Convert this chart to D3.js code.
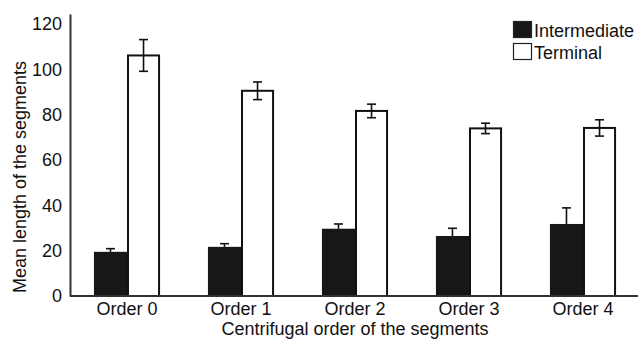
<!DOCTYPE html>
<html>
<head>
<meta charset="utf-8">
<script src="https://cdn.jsdelivr.net/npm/d3@7"></script>
<style>
  html, body { margin: 0; padding: 0; background: #fff; }
  svg { display: block; font-family: "Liberation Sans", Arial, Helvetica, sans-serif; }
</style>
</head>
<body>
<svg id="chart" width="638" height="339"></svg>
<script>
// Segment orders along the x axis
const categories = ["Order 0", "Order 1", "Order 2", "Order 3", "Order 4"];
const seriesNames = ["Intermediate", "Terminal"];

// Mean segment length and its error for each order
const intermediateMean = [19.5, 21.7, 29.7, 26.5, 31.8];
const intermediateErr  = [1.4, 1.4, 2.1, 3.4, 7.1];
const terminalMean     = [106.2, 90.6, 81.7, 74.0, 74.2];
const terminalErr      = [7.0, 3.9, 3.0, 2.3, 3.6];

const yTicks = [0, 20, 40, 60, 80, 100, 120];

const rows = categories.map((c, i) => ({
  category: c,
  values: [
    { series: seriesNames[0], mean: intermediateMean[i], err: intermediateErr[i] },
    { series: seriesNames[1], mean: terminalMean[i], err: terminalErr[i] }
  ]
}));

const svg = d3.select("#chart");
const plotLeft = 70, plotRight = 640, plotTop = 14, plotBottom = 296;

const x0 = d3.scaleBand().domain(categories).range([plotLeft, plotRight])
  .paddingInner(0.42).paddingOuter(0.21);
const x1 = d3.scaleBand().domain(seriesNames).range([0, x0.bandwidth()]).padding(0);
const y = d3.scaleLinear().domain([0, 124.5]).range([plotBottom, plotTop]);

const fills = { Intermediate: "#171717", Terminal: "#ffffff" };

// Bars
const groups = svg.append("g").selectAll("g").data(rows).join("g")
  .attr("transform", d => `translate(${x0(d.category)},0)`);

groups.selectAll("rect").data(d => d.values).join("rect")
  .attr("x", d => x1(d.series) + (d.series === "Terminal" ? 1 : 0))
  .attr("width", d => x1.bandwidth() - (d.series === "Terminal" ? 2 : 0))
  .attr("y", d => y(d.mean))
  .attr("height", d => y(0) - y(d.mean))
  .attr("fill", d => fills[d.series])
  .attr("stroke", d => d.series === "Terminal" ? "#111" : "none")
  .attr("stroke-width", 2);

// Error bars (the lower whisker of a dark bar is hidden inside it, so only white bars get one)
const capHalf = 4.5;
const eb = groups.selectAll("g.err").data(d => d.values).join("g").attr("class", "err")
  .attr("transform", d => `translate(${x1(d.series) + x1.bandwidth() / 2},0)`)
  .attr("stroke", "#111").attr("stroke-width", 1.6);
eb.append("line").attr("x1", 0).attr("x2", 0)
  .attr("y1", d => y(d.mean + d.err))
  .attr("y2", d => d.series === "Terminal" ? y(d.mean - d.err) : y(d.mean));
eb.append("line").attr("x1", -capHalf).attr("x2", capHalf)
  .attr("y1", d => y(d.mean + d.err)).attr("y2", d => y(d.mean + d.err));
eb.filter(d => d.series === "Terminal").append("line")
  .attr("x1", -capHalf).attr("x2", capHalf)
  .attr("y1", d => y(d.mean - d.err)).attr("y2", d => y(d.mean - d.err));

// Axes
const yAxis = svg.append("g").attr("transform", `translate(${plotLeft},0)`)
  .call(d3.axisLeft(y).tickValues(yTicks).tickSize(0).tickPadding(8));
yAxis.select(".domain").attr("stroke", "#333").attr("stroke-width", 2);
yAxis.selectAll("text").attr("font-size", 18).attr("fill", "#111")
  .attr("font-family", "Liberation Sans, Arial, sans-serif");

const xAxis = svg.append("g").attr("transform", `translate(0,${plotBottom})`)
  .call(d3.axisBottom(x0).tickSize(0).tickPadding(6));
xAxis.select(".domain").attr("stroke", "#333").attr("stroke-width", 2)
  .attr("d", `M${plotLeft},0H638`);
xAxis.selectAll("text").attr("font-size", 18).attr("fill", "#111")
  .attr("font-family", "Liberation Sans, Arial, sans-serif");

// Axis titles
svg.append("text")
  .attr("x", (plotLeft + plotRight) / 2).attr("y", 334.5)
  .attr("text-anchor", "middle").attr("font-size", 18).attr("fill", "#111")
  .text("Centrifugal order of the segments");

svg.append("text")
  .attr("transform", `translate(26,177) rotate(-90)`)
  .attr("text-anchor", "middle").attr("font-size", 18).attr("fill", "#111")
  .text("Mean length of the segments");

// Legend
const legend = svg.append("g").attr("transform", "translate(513,21)");
const li = legend.selectAll("g").data(seriesNames).join("g")
  .attr("transform", (d, i) => `translate(0,${i * 22})`);
li.append("rect").attr("x", 0.5).attr("y", 0.5).attr("width", 18).attr("height", 16)
  .attr("fill", d => fills[d]).attr("stroke", "#222").attr("stroke-width", 1.2);
li.append("text").attr("x", 21).attr("y", 16)
  .attr("font-size", 18).attr("fill", "#111").text(d => d);
</script>
</body>
</html>
